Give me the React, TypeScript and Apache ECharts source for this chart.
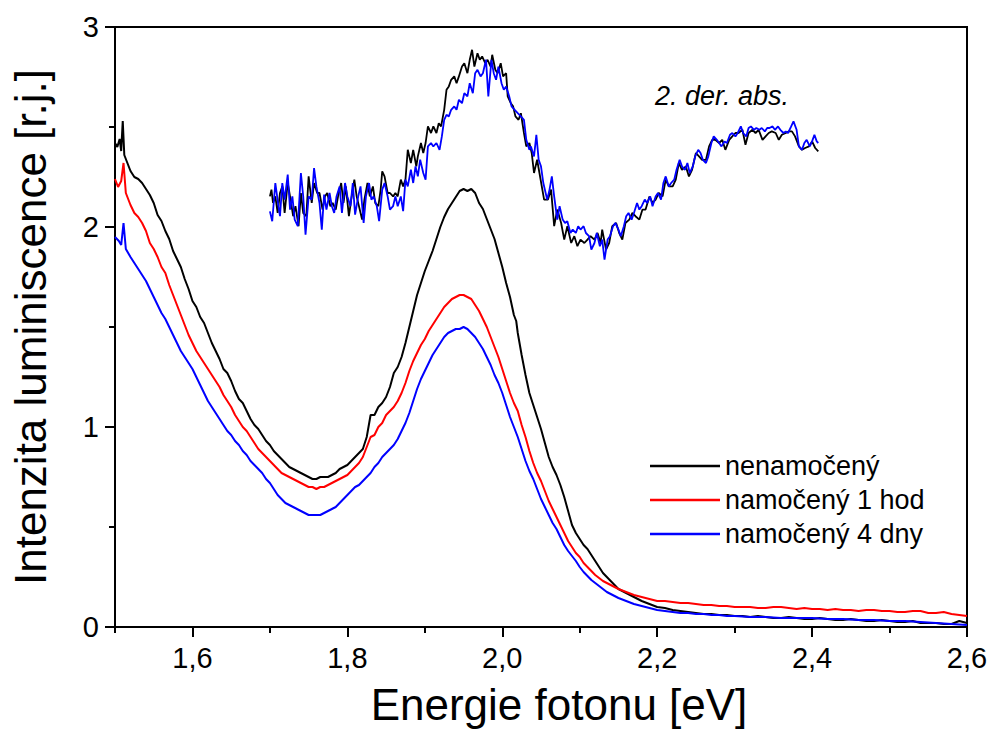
import React, { useEffect, useRef } from 'react';
import * as echarts from 'echarts';

const xTickValues = [1.6, 1.8, 2.0, 2.2, 2.4, 2.6];
const xMinorTickValues = [1.5, 1.7, 1.9, 2.1, 2.3, 2.5];
const legendNames = ['nenamočený', 'namočený 1 hod', 'namočený 4 dny'];
const annotationText = '2. der. abs.';

const blackLum: [number, number][] = [
  [1.5, 2.42], [1.503, 2.4], [1.506, 2.44], [1.508, 2.38], [1.51, 2.53], [1.512, 2.36], [1.515, 2.33],
  [1.52, 2.28], [1.525, 2.25], [1.53, 2.24], [1.535, 2.22], [1.54, 2.19], [1.545, 2.16], [1.55, 2.12],
  [1.555, 2.06], [1.56, 2.03], [1.565, 1.98], [1.57, 1.94], [1.575, 1.88], [1.58, 1.84], [1.585, 1.8],
  [1.59, 1.74], [1.595, 1.69], [1.6, 1.63], [1.605, 1.6], [1.61, 1.55], [1.615, 1.52], [1.62, 1.47],
  [1.625, 1.42], [1.63, 1.38], [1.635, 1.34], [1.64, 1.29], [1.645, 1.27], [1.65, 1.23], [1.655, 1.18],
  [1.66, 1.14], [1.665, 1.12], [1.67, 1.08], [1.675, 1.04], [1.68, 1.01], [1.685, 0.99], [1.69, 0.96],
  [1.695, 0.93], [1.7, 0.91], [1.705, 0.88], [1.71, 0.86], [1.715, 0.84], [1.72, 0.82], [1.725, 0.8],
  [1.73, 0.79], [1.735, 0.78], [1.74, 0.77], [1.745, 0.76], [1.75, 0.75], [1.755, 0.74], [1.76, 0.74],
  [1.765, 0.75], [1.77, 0.75], [1.775, 0.75], [1.78, 0.76], [1.785, 0.77], [1.79, 0.79], [1.795, 0.8],
  [1.8, 0.81], [1.805, 0.83], [1.81, 0.85], [1.815, 0.87], [1.82, 0.89], [1.825, 0.95], [1.83, 1.06],
  [1.835, 1.06], [1.84, 1.1], [1.845, 1.12], [1.85, 1.15], [1.855, 1.2], [1.86, 1.27], [1.865, 1.3],
  [1.87, 1.35], [1.875, 1.42], [1.88, 1.5], [1.885, 1.58], [1.89, 1.66], [1.895, 1.72], [1.9, 1.78],
  [1.905, 1.83], [1.91, 1.88], [1.915, 1.94], [1.92, 2.0], [1.925, 2.05], [1.93, 2.09], [1.935, 2.12],
  [1.94, 2.15], [1.945, 2.18], [1.95, 2.19], [1.955, 2.18], [1.96, 2.19], [1.965, 2.17], [1.97, 2.12],
  [1.975, 2.09], [1.98, 2.04], [1.985, 1.99], [1.99, 1.94], [1.995, 1.87], [2.0, 1.8], [2.005, 1.72],
  [2.01, 1.65], [2.015, 1.56], [2.018, 1.53], [2.02, 1.47], [2.025, 1.36], [2.03, 1.26], [2.035, 1.17],
  [2.04, 1.11], [2.045, 1.05], [2.05, 0.99], [2.055, 0.92], [2.06, 0.85], [2.065, 0.8], [2.07, 0.76],
  [2.075, 0.71], [2.08, 0.65], [2.085, 0.58], [2.09, 0.51], [2.095, 0.47], [2.1, 0.44], [2.105, 0.41],
  [2.11, 0.39], [2.115, 0.36], [2.12, 0.33], [2.125, 0.3], [2.13, 0.27], [2.135, 0.25], [2.14, 0.23],
  [2.145, 0.21], [2.15, 0.19], [2.155, 0.18], [2.16, 0.17], [2.165, 0.16], [2.17, 0.15], [2.18, 0.13],
  [2.19, 0.115], [2.2, 0.1], [2.21, 0.095], [2.22, 0.085], [2.23, 0.08], [2.24, 0.075], [2.25, 0.07],
  [2.26, 0.065], [2.27, 0.065], [2.28, 0.06], [2.29, 0.06], [2.3, 0.055], [2.31, 0.055], [2.32, 0.05],
  [2.33, 0.055], [2.34, 0.05], [2.35, 0.045], [2.36, 0.045], [2.37, 0.05], [2.38, 0.045], [2.39, 0.04],
  [2.4, 0.04], [2.41, 0.045], [2.42, 0.04], [2.43, 0.035], [2.44, 0.035], [2.45, 0.04], [2.46, 0.035],
  [2.47, 0.03], [2.48, 0.03], [2.49, 0.035], [2.5, 0.03], [2.51, 0.025], [2.52, 0.025], [2.53, 0.03],
  [2.54, 0.02], [2.55, 0.02], [2.56, 0.02], [2.57, 0.015], [2.58, 0.015], [2.59, 0.03], [2.6, 0.02],
];

const redLum: [number, number][] = [
  [1.5, 2.24], [1.504, 2.2], [1.508, 2.23], [1.511, 2.32], [1.514, 2.17], [1.52, 2.11], [1.525, 2.07],
  [1.53, 2.05], [1.535, 2.02], [1.54, 1.98], [1.545, 1.92], [1.55, 1.89], [1.555, 1.85], [1.56, 1.8],
  [1.565, 1.77], [1.57, 1.71], [1.575, 1.66], [1.58, 1.61], [1.585, 1.56], [1.59, 1.51], [1.595, 1.46],
  [1.6, 1.42], [1.605, 1.38], [1.61, 1.35], [1.615, 1.32], [1.62, 1.29], [1.625, 1.26], [1.63, 1.23],
  [1.635, 1.2], [1.64, 1.16], [1.645, 1.13], [1.65, 1.1], [1.655, 1.06], [1.66, 1.03], [1.665, 1.0],
  [1.67, 0.98], [1.675, 0.95], [1.68, 0.92], [1.685, 0.89], [1.69, 0.87], [1.695, 0.85], [1.7, 0.83],
  [1.705, 0.81], [1.71, 0.79], [1.715, 0.77], [1.72, 0.76], [1.725, 0.75], [1.73, 0.74], [1.735, 0.73],
  [1.74, 0.72], [1.745, 0.71], [1.75, 0.7], [1.755, 0.7], [1.76, 0.69], [1.765, 0.7], [1.77, 0.7],
  [1.775, 0.71], [1.78, 0.72], [1.785, 0.73], [1.79, 0.74], [1.795, 0.75], [1.8, 0.76], [1.805, 0.78],
  [1.81, 0.8], [1.815, 0.82], [1.82, 0.85], [1.825, 0.9], [1.83, 0.95], [1.835, 0.96], [1.84, 1.0],
  [1.845, 1.02], [1.85, 1.06], [1.855, 1.08], [1.86, 1.1], [1.865, 1.13], [1.87, 1.17], [1.875, 1.22],
  [1.88, 1.28], [1.885, 1.33], [1.89, 1.37], [1.895, 1.41], [1.9, 1.44], [1.905, 1.48], [1.91, 1.51],
  [1.915, 1.54], [1.92, 1.57], [1.925, 1.6], [1.93, 1.62], [1.935, 1.64], [1.94, 1.65], [1.945, 1.66],
  [1.95, 1.66], [1.955, 1.65], [1.96, 1.64], [1.965, 1.61], [1.97, 1.58], [1.975, 1.54], [1.98, 1.5],
  [1.985, 1.45], [1.99, 1.4], [1.995, 1.35], [2.0, 1.29], [2.005, 1.23], [2.01, 1.17], [2.015, 1.12],
  [2.02, 1.08], [2.025, 1.01], [2.03, 0.95], [2.035, 0.88], [2.04, 0.82], [2.045, 0.77], [2.05, 0.73],
  [2.055, 0.68], [2.06, 0.63], [2.065, 0.59], [2.07, 0.55], [2.075, 0.51], [2.08, 0.47], [2.085, 0.43],
  [2.09, 0.4], [2.095, 0.37], [2.1, 0.35], [2.105, 0.32], [2.11, 0.3], [2.115, 0.28], [2.12, 0.26],
  [2.125, 0.245], [2.13, 0.23], [2.135, 0.22], [2.14, 0.21], [2.145, 0.2], [2.15, 0.19], [2.16, 0.175],
  [2.17, 0.16], [2.18, 0.15], [2.19, 0.14], [2.2, 0.13], [2.21, 0.13], [2.22, 0.125], [2.23, 0.12],
  [2.24, 0.12], [2.25, 0.115], [2.26, 0.11], [2.27, 0.11], [2.28, 0.105], [2.29, 0.105], [2.3, 0.1],
  [2.31, 0.1], [2.32, 0.1], [2.33, 0.095], [2.34, 0.095], [2.35, 0.1], [2.36, 0.1], [2.37, 0.095],
  [2.38, 0.09], [2.39, 0.095], [2.4, 0.09], [2.41, 0.09], [2.42, 0.085], [2.43, 0.09], [2.44, 0.085],
  [2.45, 0.085], [2.46, 0.08], [2.47, 0.085], [2.48, 0.085], [2.49, 0.08], [2.5, 0.08], [2.51, 0.075],
  [2.52, 0.075], [2.53, 0.08], [2.54, 0.08], [2.55, 0.07], [2.56, 0.07], [2.57, 0.075], [2.58, 0.065],
  [2.59, 0.06], [2.6, 0.055],
];

const blueLum: [number, number][] = [
  [1.5, 1.95], [1.505, 1.93], [1.508, 1.91], [1.511, 2.02], [1.514, 1.89], [1.52, 1.85], [1.525, 1.82],
  [1.53, 1.79], [1.535, 1.76], [1.54, 1.73], [1.545, 1.69], [1.55, 1.65], [1.555, 1.61], [1.56, 1.57],
  [1.565, 1.54], [1.57, 1.5], [1.575, 1.46], [1.58, 1.42], [1.585, 1.38], [1.59, 1.35], [1.595, 1.32],
  [1.6, 1.29], [1.605, 1.25], [1.61, 1.21], [1.615, 1.17], [1.62, 1.13], [1.625, 1.1], [1.63, 1.07],
  [1.635, 1.04], [1.64, 1.01], [1.645, 0.98], [1.65, 0.96], [1.655, 0.93], [1.66, 0.91], [1.665, 0.88],
  [1.67, 0.86], [1.675, 0.83], [1.68, 0.81], [1.685, 0.79], [1.69, 0.77], [1.695, 0.74], [1.7, 0.72],
  [1.705, 0.69], [1.71, 0.66], [1.715, 0.64], [1.72, 0.62], [1.725, 0.61], [1.73, 0.6], [1.735, 0.59],
  [1.74, 0.58], [1.745, 0.57], [1.75, 0.56], [1.755, 0.56], [1.76, 0.56], [1.765, 0.56], [1.77, 0.57],
  [1.775, 0.58], [1.78, 0.59], [1.785, 0.6], [1.79, 0.62], [1.795, 0.64], [1.8, 0.66], [1.805, 0.68],
  [1.81, 0.7], [1.815, 0.71], [1.82, 0.73], [1.825, 0.75], [1.83, 0.77], [1.835, 0.8], [1.84, 0.82],
  [1.845, 0.85], [1.85, 0.87], [1.855, 0.89], [1.86, 0.91], [1.865, 0.94], [1.87, 0.98], [1.875, 1.02],
  [1.88, 1.07], [1.885, 1.13], [1.89, 1.19], [1.895, 1.24], [1.9, 1.28], [1.905, 1.32], [1.91, 1.36],
  [1.915, 1.39], [1.92, 1.42], [1.925, 1.45], [1.93, 1.47], [1.935, 1.48], [1.94, 1.49], [1.945, 1.49],
  [1.95, 1.5], [1.955, 1.49], [1.96, 1.47], [1.965, 1.45], [1.97, 1.42], [1.975, 1.39], [1.98, 1.35],
  [1.985, 1.31], [1.99, 1.26], [1.995, 1.22], [2.0, 1.17], [2.005, 1.11], [2.01, 1.05], [2.015, 1.0],
  [2.02, 0.95], [2.025, 0.89], [2.03, 0.83], [2.035, 0.78], [2.04, 0.74], [2.045, 0.69], [2.05, 0.64],
  [2.055, 0.6], [2.06, 0.56], [2.065, 0.52], [2.07, 0.49], [2.075, 0.45], [2.08, 0.41], [2.085, 0.38],
  [2.09, 0.355], [2.095, 0.33], [2.1, 0.3], [2.105, 0.275], [2.11, 0.255], [2.115, 0.235], [2.12, 0.22],
  [2.125, 0.205], [2.13, 0.19], [2.135, 0.175], [2.14, 0.165], [2.145, 0.155], [2.15, 0.145], [2.16, 0.13],
  [2.17, 0.115], [2.18, 0.105], [2.19, 0.095], [2.2, 0.085], [2.21, 0.08], [2.22, 0.075], [2.23, 0.07],
  [2.24, 0.07], [2.25, 0.065], [2.26, 0.065], [2.27, 0.06], [2.28, 0.06], [2.29, 0.055], [2.3, 0.055],
  [2.32, 0.05], [2.34, 0.05], [2.36, 0.045], [2.38, 0.045], [2.4, 0.045], [2.42, 0.04], [2.44, 0.04],
  [2.46, 0.035], [2.48, 0.035], [2.5, 0.03], [2.52, 0.03], [2.54, 0.025], [2.56, 0.02], [2.58, 0.015],
  [2.6, 0.01],
];

const blackDeriv: [number, number][] = [
  [1.7, 2.153], [1.702, 2.187], [1.704, 2.12], [1.707, 2.153], [1.71, 2.07], [1.713, 2.17], [1.716, 2.203],
  [1.719, 2.07], [1.723, 2.22], [1.726, 2.153], [1.73, 2.054], [1.733, 2.104], [1.737, 2.004], [1.74, 2.17],
  [1.743, 2.07], [1.747, 2.054], [1.75, 2.253], [1.754, 2.12], [1.757, 2.22], [1.761, 2.17], [1.764, 2.17],
  [1.768, 2.087], [1.771, 2.153], [1.774, 2.17], [1.778, 2.104], [1.781, 2.12], [1.785, 2.087], [1.788, 2.153],
  [1.792, 2.22], [1.795, 2.12], [1.798, 2.203], [1.802, 2.054], [1.805, 2.137], [1.809, 2.237], [1.812, 2.153],
  [1.815, 2.104], [1.819, 2.037], [1.822, 2.137], [1.826, 2.22], [1.829, 2.153], [1.833, 2.203], [1.836, 2.12],
  [1.84, 2.104], [1.843, 2.187], [1.845, 2.278], [1.848, 2.253], [1.852, 2.17], [1.855, 2.17], [1.859, 2.153],
  [1.862, 2.17], [1.865, 2.153], [1.869, 2.237], [1.872, 2.203], [1.875, 2.237], [1.878, 2.386], [1.882, 2.32],
  [1.885, 2.386], [1.889, 2.303], [1.891, 2.353], [1.895, 2.42], [1.898, 2.37], [1.901, 2.42], [1.904, 2.503],
  [1.908, 2.47], [1.911, 2.503], [1.915, 2.47], [1.918, 2.519], [1.921, 2.503], [1.925, 2.586], [1.928, 2.686],
  [1.931, 2.703], [1.934, 2.736], [1.938, 2.753], [1.941, 2.719], [1.944, 2.753], [1.948, 2.802], [1.951, 2.819],
  [1.955, 2.769], [1.958, 2.836], [1.961, 2.886], [1.964, 2.802], [1.968, 2.869], [1.971, 2.836], [1.974, 2.853],
  [1.978, 2.819], [1.981, 2.836], [1.985, 2.802], [1.987, 2.861], [1.991, 2.786], [1.994, 2.769], [1.998, 2.819],
  [2.001, 2.753], [2.005, 2.769], [2.007, 2.653], [2.011, 2.619], [2.014, 2.603], [2.017, 2.553], [2.021, 2.536],
  [2.024, 2.569], [2.028, 2.47], [2.031, 2.403], [2.035, 2.42], [2.038, 2.37], [2.041, 2.27], [2.045, 2.337],
  [2.048, 2.27], [2.054, 2.137], [2.059, 2.137], [2.063, 2.187], [2.067, 2.004], [2.071, 2.087], [2.076, 2.02],
  [2.08, 1.937], [2.084, 2.004], [2.089, 1.92], [2.093, 1.954], [2.097, 1.904], [2.101, 1.937], [2.106, 1.92],
  [2.11, 1.937], [2.114, 1.954], [2.119, 1.937], [2.123, 1.97], [2.127, 1.92], [2.129, 1.987], [2.134, 1.887],
  [2.138, 1.92], [2.142, 2.004], [2.147, 2.02], [2.151, 1.97], [2.155, 1.937], [2.159, 2.02], [2.164, 2.037],
  [2.168, 2.07], [2.172, 2.054], [2.177, 2.037], [2.181, 2.087], [2.185, 2.087], [2.19, 2.153], [2.194, 2.12],
  [2.198, 2.137], [2.202, 2.17], [2.207, 2.153], [2.211, 2.237], [2.215, 2.203], [2.22, 2.203], [2.224, 2.237],
  [2.228, 2.32], [2.232, 2.286], [2.237, 2.303], [2.241, 2.253], [2.245, 2.286], [2.25, 2.37], [2.254, 2.353],
  [2.258, 2.336], [2.263, 2.336], [2.267, 2.403], [2.271, 2.436], [2.275, 2.436], [2.28, 2.42], [2.284, 2.436],
  [2.288, 2.386], [2.293, 2.436], [2.297, 2.453], [2.301, 2.47], [2.305, 2.47], [2.31, 2.486], [2.314, 2.411],
  [2.318, 2.47], [2.323, 2.486], [2.327, 2.47], [2.331, 2.486], [2.336, 2.436], [2.34, 2.453], [2.344, 2.47],
  [2.348, 2.478], [2.353, 2.47], [2.357, 2.436], [2.361, 2.461], [2.366, 2.47], [2.37, 2.478], [2.374, 2.478],
  [2.378, 2.453], [2.383, 2.403], [2.387, 2.386], [2.391, 2.395], [2.396, 2.403], [2.4, 2.428], [2.404, 2.395],
  [2.408, 2.378],
];

const blueDeriv: [number, number][] = [
  [1.7, 2.078], [1.703, 2.029], [1.707, 2.22], [1.711, 2.104], [1.713, 2.054], [1.716, 2.22], [1.719, 2.137],
  [1.723, 2.262], [1.726, 2.087], [1.729, 2.153], [1.732, 2.037], [1.736, 2.004], [1.74, 2.27], [1.743, 2.153],
  [1.746, 1.962], [1.75, 2.153], [1.754, 2.137], [1.757, 2.295], [1.76, 2.203], [1.764, 2.12], [1.767, 1.987],
  [1.77, 2.162], [1.773, 2.087], [1.777, 2.17], [1.78, 2.104], [1.783, 2.07], [1.786, 2.153], [1.79, 2.203],
  [1.793, 2.07], [1.797, 2.22], [1.8, 2.153], [1.804, 2.104], [1.807, 2.22], [1.81, 2.062], [1.814, 2.153],
  [1.817, 2.203], [1.821, 2.02], [1.824, 2.153], [1.828, 2.22], [1.831, 2.137], [1.834, 2.153], [1.838, 2.104],
  [1.841, 2.029], [1.845, 2.187], [1.848, 2.22], [1.852, 2.153], [1.855, 2.087], [1.859, 2.104], [1.862, 2.153],
  [1.865, 2.104], [1.869, 2.153], [1.872, 2.079], [1.875, 2.237], [1.878, 2.203], [1.882, 2.287], [1.885, 2.22],
  [1.888, 2.303], [1.891, 2.253], [1.894, 2.337], [1.898, 2.27], [1.901, 2.237], [1.904, 2.403], [1.908, 2.42],
  [1.911, 2.403], [1.915, 2.42], [1.919, 2.386], [1.922, 2.453], [1.925, 2.536], [1.928, 2.561], [1.931, 2.553],
  [1.934, 2.586], [1.938, 2.603], [1.941, 2.586], [1.944, 2.636], [1.948, 2.619], [1.951, 2.669], [1.955, 2.653],
  [1.958, 2.719], [1.962, 2.669], [1.965, 2.769], [1.968, 2.786], [1.972, 2.753], [1.975, 2.769], [1.979, 2.836],
  [1.982, 2.653], [1.986, 2.836], [1.989, 2.769], [1.992, 2.736], [1.995, 2.802], [1.999, 2.719], [2.002, 2.686],
  [2.005, 2.703], [2.009, 2.653], [2.012, 2.603], [2.016, 2.586], [2.02, 2.569], [2.024, 2.553], [2.028, 2.536],
  [2.031, 2.436], [2.035, 2.386], [2.037, 2.403], [2.041, 2.353], [2.044, 2.461], [2.047, 2.336], [2.05, 2.303],
  [2.053, 2.22], [2.058, 2.137], [2.061, 2.187], [2.064, 2.253], [2.067, 2.153], [2.071, 2.037], [2.074, 2.104],
  [2.078, 2.037], [2.081, 2.02], [2.084, 2.029], [2.088, 1.97], [2.091, 1.987], [2.095, 1.97], [2.098, 2.004],
  [2.101, 1.987], [2.105, 2.004], [2.108, 1.97], [2.112, 1.954], [2.115, 1.887], [2.119, 1.92], [2.122, 1.97],
  [2.126, 1.904], [2.129, 1.937], [2.132, 1.837], [2.136, 1.937], [2.139, 1.954], [2.143, 2.004], [2.146, 2.02],
  [2.15, 1.987], [2.153, 1.954], [2.157, 2.004], [2.16, 2.054], [2.163, 2.07], [2.167, 2.037], [2.17, 2.07],
  [2.174, 2.12], [2.177, 2.087], [2.18, 2.104], [2.184, 2.137], [2.187, 2.12], [2.191, 2.153], [2.194, 2.104],
  [2.198, 2.153], [2.201, 2.17], [2.205, 2.137], [2.208, 2.22], [2.211, 2.253], [2.215, 2.203], [2.218, 2.22],
  [2.222, 2.237], [2.225, 2.286], [2.229, 2.336], [2.232, 2.303], [2.236, 2.286], [2.239, 2.32], [2.242, 2.27],
  [2.246, 2.303], [2.249, 2.353], [2.253, 2.386], [2.256, 2.37], [2.259, 2.336], [2.263, 2.32], [2.266, 2.353],
  [2.27, 2.42], [2.273, 2.453], [2.277, 2.436], [2.28, 2.42], [2.283, 2.403], [2.287, 2.428], [2.29, 2.42],
  [2.294, 2.461], [2.297, 2.47], [2.301, 2.453], [2.304, 2.47], [2.308, 2.503], [2.311, 2.47], [2.315, 2.453],
  [2.318, 2.495], [2.321, 2.503], [2.325, 2.486], [2.328, 2.495], [2.332, 2.486], [2.335, 2.495], [2.339, 2.478],
  [2.342, 2.495], [2.345, 2.495], [2.349, 2.503], [2.352, 2.486], [2.356, 2.503], [2.359, 2.486], [2.363, 2.47],
  [2.366, 2.478], [2.369, 2.47], [2.373, 2.503], [2.376, 2.528], [2.38, 2.486], [2.383, 2.403], [2.387, 2.386],
  [2.39, 2.42], [2.393, 2.436], [2.397, 2.403], [2.4, 2.428], [2.403, 2.461], [2.406, 2.428], [2.408, 2.42],
];

const FONT = '"Liberation Sans", Arial, Helvetica, sans-serif';
const BLACK = '#000000';
const RED = '#ff0000';
const BLUE = '#0000ff';

const fmtComma = (v: number) => v.toFixed(1).replace('.', ',');

export default function App() {
  const ref = useRef<HTMLDivElement>(null);
  useEffect(() => {
    if (!ref.current) return;
    const chart = echarts.init(ref.current, null, { renderer: 'svg' });
    const lineSeries = (name: string, data: [number, number][], color: string, width: number) => ({
      name,
      type: 'line',
      data,
      xAxisIndex: 0,
      yAxisIndex: 0,
      showSymbol: false,
      symbol: 'none',
      smooth: false,
      lineStyle: { color, width },
      itemStyle: { color },
      emphasis: { disabled: true },
    });
    chart.setOption({
      animation: false,
      backgroundColor: '#ffffff',
      textStyle: { fontFamily: FONT },
      grid: {
        left: 113,
        right: 24,
        top: 27,
        bottom: 103,
        show: true,
        borderColor: BLACK,
        borderWidth: 2,
        backgroundColor: 'transparent',
      },
      legend: {
        data: legendNames.map((n) => ({ name: n, icon: 'rect' })),
        orient: 'vertical',
        left: 645,
        top: 446,
        itemWidth: 70,
        itemHeight: 2.5,
        itemGap: 4,
        textStyle: { fontSize: 27, lineHeight: 30, color: BLACK, fontFamily: FONT },
      },
      xAxis: [
        {
          type: 'value',
          min: 1.5,
          max: 2.6,
          name: 'Energie fotonu [eV]',
          nameLocation: 'middle',
          nameGap: 55,
          nameTextStyle: { fontSize: 44, color: BLACK, fontFamily: FONT, padding: [0, 0, 0, 36] },
          axisLine: { show: true, lineStyle: { color: BLACK, width: 2 } },
          axisTick: {
            show: true,
            inside: false,
            length: 10,
            customValues: xTickValues,
            lineStyle: { color: BLACK, width: 2 },
          },
          axisLabel: {
            show: true,
            customValues: xTickValues,
            formatter: (v: number) => fmtComma(v),
            fontSize: 29,
            color: BLACK,
            margin: 16,
            fontFamily: FONT,
          },
          splitLine: { show: false },
        },
        {
          type: 'value',
          min: 1.5,
          max: 2.6,
          position: 'bottom',
          axisLine: { show: true, lineStyle: { color: BLACK, width: 2 } },
          axisTick: {
            show: true,
            inside: false,
            length: 6,
            customValues: xMinorTickValues,
            lineStyle: { color: BLACK, width: 2 },
          },
          axisLabel: { show: false },
          splitLine: { show: false },
        },
      ],
      yAxis: {
        type: 'value',
        min: 0,
        max: 3,
        interval: 1,
        name: 'Intenzita luminiscence [r.j.]',
        nameLocation: 'middle',
        nameGap: 63,
        nameTextStyle: { fontSize: 44, color: BLACK, fontFamily: FONT },
        axisLine: { show: true, lineStyle: { color: BLACK, width: 2 } },
        axisTick: { show: true, inside: false, length: 10, lineStyle: { color: BLACK, width: 2 } },
        minorTick: { show: true, splitNumber: 2, length: 6, lineStyle: { color: BLACK, width: 2 } },
        axisLabel: {
          fontSize: 29,
          color: BLACK,
          margin: 16,
          fontFamily: FONT,
          formatter: (v: number) => String(v),
        },
        splitLine: { show: false },
        minorSplitLine: { show: false },
      },
      graphic: [
        {
          type: 'text',
          x: 655,
          y: 96,
          style: {
            text: annotationText,
            fontSize: 27,
            fontStyle: 'italic',
            fontFamily: FONT,
            fill: BLACK,
            verticalAlign: 'middle',
            align: 'left',
          },
        },
      ],
      series: [
        lineSeries('deriv-black', blackDeriv, BLACK, 1.8),
        lineSeries('deriv-blue', blueDeriv, BLUE, 1.8),
        lineSeries(legendNames[0], blackLum, BLACK, 2),
        lineSeries(legendNames[1], redLum, RED, 2),
        lineSeries(legendNames[2], blueLum, BLUE, 2),
      ],
    });
    return () => chart.dispose();
  }, []);
  return (
    <div
      ref={ref}
      style={{ position: 'fixed', left: 0, top: 0, width: 991, height: 731, background: '#fff' }}
    />
  );
}
